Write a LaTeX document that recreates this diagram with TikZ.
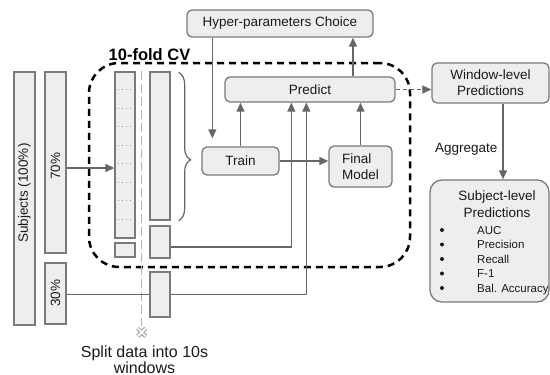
\documentclass[tikz,border=0pt]{standalone}
\usepackage{fontspec}
\setmainfont{Liberation Sans}
\usetikzlibrary{arrows.meta,calc,decorations.pathreplacing}
\definecolor{boxfill}{HTML}{EEEEEE}
\definecolor{boxline}{HTML}{7A7A7A}
\definecolor{arrcol}{HTML}{666666}
\definecolor{txt}{HTML}{1A1A1A}
\begin{document}
\begin{tikzpicture}[x=1pt,y=-1pt,
  bar/.style={draw=boxline,fill=boxfill,line width=1.3pt,inner sep=0pt},
  rbox/.style={bar,rounded corners=5pt,font=\fontsize{13.5}{16}\selectfont,text=txt},
  lbl/.style={font=\fontsize{13.5}{16}\selectfont,text=txt,inner sep=0pt},
  item/.style={font=\fontsize{11.5}{14}\selectfont,text=txt,inner sep=0pt,anchor=base west},
  arr/.style={draw=arrcol,line width=1.3pt,-{Triangle[length=9pt,width=8pt]}},
  ln/.style={draw=arrcol,line width=1.3pt},
  cvbox/.style={draw=black,line width=2.5pt,dash pattern=on 7pt off 5pt,rounded corners=30pt,inner sep=0pt},
  dotsep/.style={draw=gray!80,line width=0.8pt,dash pattern=on 1pt off 3.2pt},
  splitline/.style={draw=gray!60,line width=1.2pt,dash pattern=on 9pt off 4pt},
  bracest/.style={draw=arrcol,line width=1.2pt,decorate,decoration={brace,amplitude=12pt,aspect=0.59}},
  dasharr/.style={draw=arrcol,line width=1.2pt,dash pattern=on 4pt off 3pt,-{Triangle[length=9pt,width=8pt]}}
]
\useasboundingbox (0,0) rectangle (550,375);

% 10-fold CV frame
\node[cvbox,minimum width=321pt,minimum height=204pt] (cv) at (249.5,165) {};
\node[font=\fontsize{16.5}{18}\selectfont\bfseries,inner sep=0pt,anchor=base] (cvlabel) at (149.5,60) {10-fold CV};

% data bars
\node[bar,minimum width=21pt,minimum height=253pt] (subj) at (24.5,198.5) {};
\node[lbl,rotate=90] (subjl) at (24.5,193) {Subjects (100\%)};
\node[bar,minimum width=21pt,minimum height=181pt] (p70) at (55.5,162.5) {};
\node[lbl,rotate=90] (p70l) at (55.5,166) {70\%};
\node[bar,minimum width=21pt,minimum height=61pt] (p30) at (55.5,293.5) {};
\node[lbl,rotate=90] (p30l) at (55.5,293) {30\%};

\node[bar,minimum width=20pt,minimum height=166pt] (fold) at (125,155) {};
\node[bar,minimum width=20pt,minimum height=14pt] (fold10) at (125,250) {};
\foreach \i in {1,...,8}
  \draw[dotsep] ($(fold.north west)+(3.5,\i*18.444)$) -- ++(14,0);

\node[bar,minimum width=20pt,minimum height=148pt] (trainset) at (160,146) {};
\node[bar,minimum width=20pt,minimum height=32pt] (valset) at (160,242) {};
\node[bar,minimum width=20pt,minimum height=45pt] (testset) at (160,294.5) {};

% split line and cross
\coordinate (splittop) at ($(fold.north east)+(6,0)$);
\coordinate (cross) at ($(splittop)+(0,261)$);
\draw[splitline] (splittop) -- ($(cross)+(0,-6)$);
\draw[gray!75,line width=4pt] ($(cross)+(-4,-4)$) -- ($(cross)+(4,4)$)
      ($(cross)+(-4,4)$) -- ($(cross)+(4,-4)$);
\draw[white,line width=1.8pt] ($(cross)+(-3.8,-3.8)$) -- ($(cross)+(3.8,3.8)$)
      ($(cross)+(-3.8,3.8)$) -- ($(cross)+(3.8,-3.8)$);
\node[font=\fontsize{16}{18}\selectfont,text=txt,inner sep=0pt,anchor=base] (split1) at (144.5,357.5) {Split data into 10s};
\node[font=\fontsize{16}{18}\selectfont,text=txt,inner sep=0pt,anchor=base] (split2) at (144.5,373) {windows};

% brace
\draw[bracest] ($(trainset.north east)+(8,1)$) -- ($(trainset.south east)+(8,0)$);

% process boxes
\node[rbox,minimum width=186pt,minimum height=27pt] (hyp) at (280,23.5) {Hyper-parameters Choice};
\node[rbox,minimum width=170pt,minimum height=25pt] (predict) at (310,89.5) {Predict};
\node[rbox,minimum width=77pt,minimum height=28pt] (train) at (240.5,161) {Train};
\node[rbox,minimum width=63pt,minimum height=41pt,align=left] (final) at (360.5,166.5) {Final\\Model};
\node[rbox,minimum width=117pt,minimum height=40pt,align=center] (window) at (490.5,83) {Window-level\\Predictions};
\node[bar,rounded corners=12pt,minimum width=119pt,minimum height=122pt] (subjpred) at (489.5,241) {};
\node[lbl,align=center,anchor=base] (sp1) at (497,200) {Subject-level};
\node[lbl,align=center,anchor=base] (sp2) at (497,217) {Predictions};
\foreach \t/\yy [count=\k] in {AUC/234,Precision/248.5,Recall/263,F-1/277.5,Bal. Accuracy/292}{
  \node[item] (it\k) at (477,\yy) {\t};
  \fill[txt] (442,\yy-4) circle (2pt);
}

% connector anchor points
\coordinate (a70) at ($(p70.east)+(0,5.5)$);
\coordinate (hypout) at ($(hyp.south west)+(26,0)$);
\coordinate (trainin) at ($(train.north west)+(11,-8)$);
\coordinate (predout) at ($(predict.north)+(43,0)$);
\coordinate (vout) at ($(valset.east)+(0,5)$);
\coordinate (vin) at ($(predict.south west)+(67,0)$);
\coordinate (tin) at ($(predict.south west)+(82,0)$);
\coordinate (winout) at ($(window.south)+(12.5,0)$);

% connectors
\draw[arr] (a70) -- (a70 -| fold.west);
\draw[arr] (hypout) -- (trainin);
\draw[arr] (train.north) -- (train.north |- predict.south);
\draw[arr] (final.north) -- (final.north |- predict.south);
\draw[arr] (predout) -- (predout |- hyp.south);
\draw[arr] (train.east) -- (train.east -| final.west);
\draw[arr] (vout) -| (vin);
\draw[ln] (p30.east |- testset.west) -- (testset.west);
\draw[arr] (testset.east) -| (tin);
\draw[dasharr] (predict.east) -- (predict.east -| window.west);
\draw[arr] (winout) -- (winout |- subjpred.north);
\node[lbl,anchor=base west] (agg) at (435,152) {Aggregate};
\end{tikzpicture}
\end{document}
